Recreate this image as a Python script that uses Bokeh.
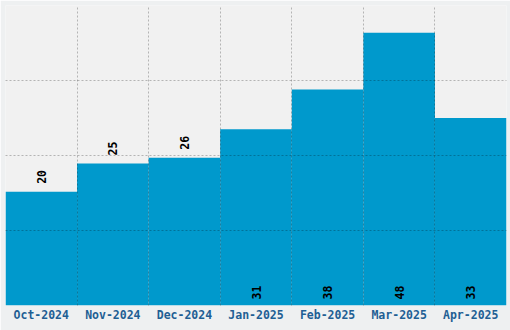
import math
from bokeh.plotting import figure
from bokeh.models import ColumnDataSource, FixedTicker, Range1d
from bokeh.core.properties import value
from bokeh.embed import file_html
from bokeh.resources import INLINE

months = ["Oct-2024", "Nov-2024", "Dec-2024", "Jan-2025", "Feb-2025", "Mar-2025", "Apr-2025"]
counts = [20, 25, 26, 31, 38, 48, 33]

n = len(months)
xs = [i + 0.5 for i in range(n)]
ymax = max(counts) * 1.1

p = figure(width=510, height=330, output_backend="svg", toolbar_location=None,
           x_range=Range1d(0, n), y_range=Range1d(0, ymax),
           min_border_left=5, min_border_right=4, min_border_top=5, min_border_bottom=25)
p.background_fill_color = "#f1f1f1"
p.border_fill_color = "#eef0f1"
p.outline_line_color = None

src = ColumnDataSource(dict(x=xs, top=counts))
p.vbar(x="x", top="top", width=1.0, source=src, fill_color="#0099cc", line_color=None)

outside = [i for i, c in enumerate(counts) if c < 30]
inside = [i for i, c in enumerate(counts) if c >= 30]
src_out = ColumnDataSource(dict(x=[xs[i] for i in outside], y=[counts[i] for i in outside],
                                lab=[str(counts[i]) for i in outside]))
src_in = ColumnDataSource(dict(x=[xs[i] for i in inside], y=[0 for i in inside],
                               lab=[str(counts[i]) for i in inside]))
for s, off in ((src_out, -8), (src_in, -6)):
    p.text(x="x", y="y", text="lab", source=s, angle=math.pi / 2, y_offset=off,
           text_align="left", text_baseline="middle", text_color="#000000",
           text_font=value("DejaVu Sans Mono"), text_font_style="bold", text_font_size="11.5px")

p.yaxis.visible = False
p.xaxis.ticker = FixedTicker(ticks=xs)
p.xaxis.major_label_overrides = {x: m for x, m in zip(xs, months)}
p.xaxis.axis_line_color = None
p.xaxis.major_tick_line_color = None
p.xaxis.minor_tick_line_color = None
p.xaxis.major_tick_out = 0
p.xaxis.major_tick_in = 0
p.xaxis.major_label_standoff = 2
p.xaxis.major_label_text_font = "DejaVu Sans Mono"
p.xaxis.major_label_text_font_style = "bold"
p.xaxis.major_label_text_font_size = "11.5px"
p.xaxis.major_label_text_color = "#1f5f94"

p.xgrid.ticker = FixedTicker(ticks=list(range(1, n)))
p.ygrid.ticker = FixedTicker(ticks=[ymax / 4, ymax / 2, ymax * 3 / 4])
for g in (p.xgrid, p.ygrid):
    g.grid_line_color = "#000000"
    g.grid_line_alpha = 0.25
    g.grid_line_dash = "2 2"
    g.level = "overlay"

open("out.html", "w").write(file_html(p, INLINE))
